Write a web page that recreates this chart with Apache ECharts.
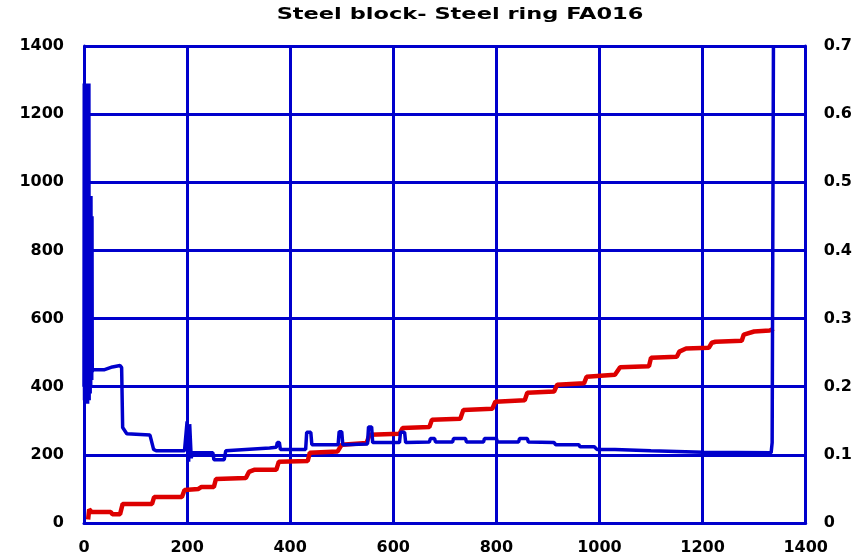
<!DOCTYPE html>
<html>
<head>
<meta charset="utf-8">
<script src="https://cdn.jsdelivr.net/npm/echarts@6/dist/echarts.min.js"></script>
<style>
html,body{margin:0;padding:0;background:#fff;}
#c{width:855px;height:556px;}
</style>
</head>
<body>
<div id="c"></div>
<script>
// ---- data ----
const titleText = "Steel block- Steel ring FA016";
const xTicks = [0, 200, 400, 600, 800, 1000, 1200, 1400];
const leftTicks = [0, 200, 400, 600, 800, 1000, 1200, 1400];
const rightTicks = [0, 0.1, 0.2, 0.3, 0.4, 0.5, 0.6, 0.7];

// red series (left axis)
const redX = [8, 10, 15, 52, 55, 70, 75, 132, 136, 190, 195, 222, 228, 252, 256, 314, 320, 330, 373, 378, 434, 438, 492, 500, 548, 554, 612, 618, 670, 675, 730, 736, 792, 798, 855, 860, 912, 918, 970, 975, 1030, 1040, 1096, 1100, 1150, 1155, 1168, 1212, 1218, 1225, 1276, 1280, 1300, 1330, 1338];
const redY = [10, 40, 32, 32, 26, 26, 56, 56, 76, 76, 97, 100, 106, 106, 129, 132, 150, 156, 156, 180, 182, 206, 210, 230, 235, 259, 262, 279, 282, 303, 306, 332, 335, 356, 360, 382, 386, 406, 410, 429, 435, 457, 460, 485, 488, 503, 512, 514, 529, 532, 535, 553, 562, 565, 570];

// blue series (right axis)
const blueX = [0, 0.5, 1, 1.5, 2, 2.5, 3, 3.5, 4, 4.5, 5, 5.5, 6, 6.5, 7, 7.5, 8, 8.5, 9, 9.5, 10, 10.5, 11, 11.5, 12, 12.5, 13, 13.5, 14, 14.5, 15, 15.5, 16, 17, 40, 55, 70, 73, 75, 83, 128, 135, 140, 195, 200, 203, 205, 208, 210, 250, 252, 272, 275, 360, 373, 375, 379, 381, 430, 432, 440, 442, 493, 495, 500, 502, 550, 552, 558, 560, 612, 614, 622, 624, 670, 672, 680, 682, 715, 717, 740, 742, 775, 777, 800, 802, 843, 845, 860, 862, 912, 915, 960, 962, 990, 995, 1030, 1100, 1200, 1333, 1335, 1337, 1337.5];
const blueY = [0.2, 0.645, 0.18, 0.645, 0.19, 0.645, 0.18, 0.645, 0.19, 0.645, 0.175, 0.645, 0.18, 0.645, 0.175, 0.645, 0.2, 0.645, 0.18, 0.645, 0.18, 0.48, 0.19, 0.48, 0.19, 0.48, 0.2, 0.48, 0.21, 0.45, 0.21, 0.45, 0.222, 0.225, 0.225, 0.229, 0.231, 0.228, 0.14, 0.131, 0.129, 0.108, 0.106, 0.106, 0.149, 0.09, 0.145, 0.095, 0.103, 0.103, 0.093, 0.093, 0.106, 0.11, 0.111, 0.118, 0.118, 0.108, 0.108, 0.133, 0.133, 0.115, 0.115, 0.134, 0.134, 0.115, 0.116, 0.141, 0.141, 0.118, 0.118, 0.133, 0.133, 0.118, 0.119, 0.124, 0.124, 0.119, 0.119, 0.124, 0.124, 0.119, 0.119, 0.124, 0.124, 0.119, 0.119, 0.124, 0.124, 0.119, 0.118, 0.115, 0.115, 0.112, 0.112, 0.108, 0.108, 0.106, 0.104, 0.103, 0.118, 0.118, 0.7];

const BLUE = '#0000cc';
const RED = '#dd0000';
const FONT = 'DejaVu Sans';

const redData = redX.map((x, i) => [x, redY[i]]);
const blueData = blueX.map((x, i) => [x, blueY[i]]);

const labelStyle = {color: '#000', fontFamily: FONT, fontWeight: 'bold', fontSize: 16};

const chart = echarts.init(document.getElementById('c'), null, {renderer: 'canvas'});
chart.setOption({
  animation: false,
  backgroundColor: '#fff',
  graphic: [{
    type: 'text', x: 460, y: 15, scaleX: 1.5, scaleY: 1,
    style: {text: titleText, font: 'bold 15px "DejaVu Sans"', fill: '#000',
      textAlign: 'center', textVerticalAlign: 'middle'}
  }],
  grid: {left: 84, right: 48, top: 46, bottom: 33, containLabel: false},
  xAxis: {
    type: 'value', min: xTicks[0], max: xTicks[xTicks.length - 1], interval: 200,
    axisLine: {show: true, onZero: false, lineStyle: {color: BLUE, width: 3}},
    axisTick: {show: false},
    splitLine: {show: true, lineStyle: {color: BLUE, width: 3}},
    axisLabel: Object.assign({margin: 17, formatter: v => String(v)}, labelStyle)
  },
  yAxis: [{
    type: 'value', min: leftTicks[0], max: leftTicks[leftTicks.length - 1], interval: 200,
    axisLine: {show: true, onZero: false, lineStyle: {color: BLUE, width: 3}},
    axisTick: {show: false},
    splitLine: {show: true, lineStyle: {color: BLUE, width: 3}},
    axisLabel: Object.assign({margin: 20, formatter: v => String(v)}, labelStyle)
  }, {
    type: 'value', min: rightTicks[0], max: rightTicks[rightTicks.length - 1], interval: 0.1,
    position: 'right',
    axisLine: {show: true, onZero: false, lineStyle: {color: BLUE, width: 3}},
    axisTick: {show: false},
    splitLine: {show: false},
    axisLabel: Object.assign({margin: 18, formatter: v => (v === 0 ? '0' : (+v).toFixed(1))}, labelStyle)
  }],
  series: [{
    type: 'line', yAxisIndex: 0, data: redData, showSymbol: false, symbol: 'none',
    lineStyle: {color: RED, width: 4.5}, z: 3
  }, {
    type: 'line', yAxisIndex: 1, data: blueData, showSymbol: false, symbol: 'none',
    lineStyle: {color: BLUE, width: 3.5}, z: 4
  }]
});
</script>
</body>
</html>
